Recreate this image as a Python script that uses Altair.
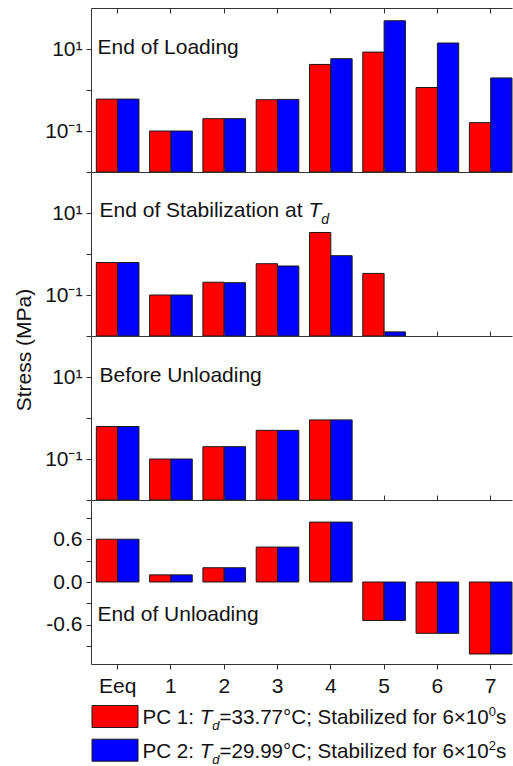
import altair as alt
import pandas as pd

FONT = "Liberation Sans"

categories = ["Eeq", "1", "2", "3", "4", "5", "6", "7"]
series = ["PC 1", "PC 2"]
colors = ["#ff0000", "#0000ff"]

# Stress (MPa)
loading_pc1 = [0.60, 0.10, 0.20, 0.58, 4.2, 8.4, 1.15, 0.16]
loading_pc2 = [0.60, 0.10, 0.20, 0.59, 5.8, 48.8, 14.0, 1.97]
stab_pc1 = [0.62, 0.10, 0.205, 0.58, 3.35, 0.336]
stab_pc2 = [0.62, 0.10, 0.20, 0.51, 0.91, 0.0126]
before_pc1 = [0.62, 0.10, 0.20, 0.50, 0.90]
before_pc2 = [0.62, 0.10, 0.20, 0.50, 0.90]
unload_pc1 = [0.60, 0.10, 0.20, 0.49, 0.84, -0.54, -0.72, -1.01]
unload_pc2 = [0.60, 0.10, 0.20, 0.49, 0.84, -0.54, -0.72, -1.01]

panel_titles = ["End of Loading", "End of Stabilization at ", "Before Unloading", "End of Unloading"]
legend_pre = ["PC 1: ", "PC 2: "]
legend_mid = ["=33.77°C; Stabilized for 6×10", "=29.99°C; Stabilized for 6×10"]
legend_exp = ["0", "2"]

log_ticks = [0.01, 0.1, 1, 10]
lin_ticks = [-0.9, -0.6, -0.3, 0.0, 0.3, 0.6, 0.9]

W, H = 421, 164
INK = "#111111"
LINE = "#333333"

# bands right-aligned so the last pair touches the (cut) right edge
XSCALE = dict(domain=categories, paddingInner=0.2, paddingOuter=0.05, align=1)


def make_df(pc1, pc2):
    rows = []
    for s, vals in zip(series, [pc1, pc2]):
        for c, v in zip(categories, vals):
            rows.append({"cat": c, "series": s, "value": v})
    return pd.DataFrame(rows)


def xaxis(kind):
    if kind == "first":
        # drawn at the top edge, ticks pointing inward
        return alt.Axis(orient="bottom", offset=-H, labels=False, domain=True,
                        tickSize=5, title=None)
    if kind == "top":
        return alt.Axis(orient="top", labels=False, domain=True,
                        tickSize=5, title=None)
    return alt.Axis(orient="bottom", labels=True, domain=True, tickSize=5,
                    labelPadding=6, labelFontSize=21, labelAngle=0, title=None)


def bars(df, yscale, yaxis, xkind):
    return alt.Chart(df).mark_bar(stroke="#1a1a1a", strokeWidth=1).encode(
        x=alt.X("cat:N", sort=categories, scale=alt.Scale(**XSCALE), axis=xaxis(xkind)),
        xOffset=alt.XOffset("series:N", sort=series,
                            scale=alt.Scale(domain=series, paddingInner=0, paddingOuter=0)),
        y=alt.Y("value:Q", scale=yscale, axis=yaxis),
        color=alt.Color("series:N", scale=alt.Scale(domain=series, range=colors), legend=None),
    )


def txt(text, x, y, size=21, style="normal"):
    return alt.Chart(pd.DataFrame({"t": [text]})).mark_text(
        align="left", baseline="alphabetic", fontSize=size, fontStyle=style,
        font=FONT, color=INK,
    ).encode(x=alt.value(x), y=alt.value(y), text="t:N")


log_scale = alt.Scale(type="log", domain=[0.01, 100], nice=False, clamp=True)
log_expr = ("abs(datum.value - 10) < 1e-9 ? '10¹' : "
            "(abs(datum.value - 0.1) < 1e-9 ? '10⁻¹' : '')")


def log_axis(title=False):
    kw = dict(values=log_ticks, labelExpr=log_expr, tickSize=5, domain=True,
              grid=False, labelFontSize=21, labelPadding=4)
    if title:
        kw.update(title="Stress (MPa)", titleAngle=270, titleX=-61, titleY=13.5,
                  titleAlign="center", titleBaseline="alphabetic",
                  titleFontSize=21, titleFontWeight="normal", titleColor=INK)
    else:
        kw.update(title=None)
    return alt.Axis(**kw)


lin_axis = alt.Axis(values=lin_ticks, tickSize=5, domain=True, grid=False,
                    labelFontSize=21, labelPadding=4, title=None,
                    labelExpr="abs(datum.value - 0.6) < 1e-9 ? '0.6' : "
                              "(abs(datum.value) < 1e-9 ? '0.0' : "
                              "(abs(datum.value + 0.6) < 1e-9 ? '-0.6' : ''))")

# invisible spacer fixing the page margin to the left of and above the plots
spacer = alt.Chart(pd.DataFrame({"s": [0]})).mark_rule(
    strokeOpacity=0, strokeWidth=0.001
).encode(x=alt.value(-91), x2=alt.value(-90), y=alt.value(-7.5))

p1 = alt.layer(
    bars(make_df(loading_pc1, loading_pc2), log_scale, log_axis(), "first"),
    txt(panel_titles[0], 6.5, 45.5),
    spacer,
).properties(width=W, height=H)

p2 = alt.layer(
    bars(make_df(stab_pc1, stab_pc2), log_scale, log_axis(), "top"),
    txt(panel_titles[1], 8.5, 45.2),
    txt("T", 217.5, 45.2, style="italic"),
    txt("d", 230.3, 51.5, size=14, style="italic"),
).properties(width=W, height=H)

p3 = alt.layer(
    bars(make_df(before_pc1, before_pc2), log_scale, log_axis(title=True), "top"),
    txt(panel_titles[2], 8.5, 45.5),
).properties(width=W, height=H)

# invisible layer carrying the top edge (with its ticks) of the last panel
top_edge = alt.Chart(pd.DataFrame({"cat": categories})).mark_point(opacity=0).encode(
    x=alt.X("cat:N", sort=categories, scale=alt.Scale(**XSCALE), axis=xaxis("top")),
)

LF = 20.6
legend_layers = []
swatch_y = [205.5, 239.2]
for i in range(2):
    y0 = swatch_y[i]
    base = y0 + 18.3
    legend_layers.append(
        alt.Chart(pd.DataFrame({"s": [series[i]]})).mark_rect(
            stroke="#1a1a1a", strokeWidth=1, color=colors[i]
        ).encode(x=alt.value(1), x2=alt.value(47), y=alt.value(y0), y2=alt.value(y0 + 22))
    )
    legend_layers += [
        txt(legend_pre[i], 51.5, base, size=LF),
        txt("T", 108.7, base, size=LF, style="italic"),
        txt("d", 121.3, base + 6, size=13, style="italic"),
        txt(legend_mid[i], 128.5, base, size=LF),
        txt(legend_exp[i], 397.8, base - 8, size=13),
        txt("s", 405.0, base, size=LF),
    ]

p4 = alt.layer(
    bars(make_df(unload_pc1, unload_pc2),
         alt.Scale(domain=[-1.15, 1.15], nice=False, zero=False), lin_axis, "bottom"),
    top_edge,
    txt(panel_titles[3], 6.5, 121.2),
    *legend_layers,
).resolve_axis(x="independent").properties(width=W, height=H)

chart = alt.vconcat(p1, p2, p3, p4, spacing=0, bounds="flush").resolve_scale(
    y="independent"
).properties(
    padding={"left": 0, "top": 0, "right": 0, "bottom": 0},
    background="white",
).configure_view(
    stroke=None
).configure_axis(
    labelFont=FONT, titleFont=FONT, labelColor=INK, tickColor=LINE,
    domainColor=LINE, grid=False, tickWidth=1, domainWidth=1,
)

chart.save("out.html", embed_options={"renderer": "svg", "actions": False})
